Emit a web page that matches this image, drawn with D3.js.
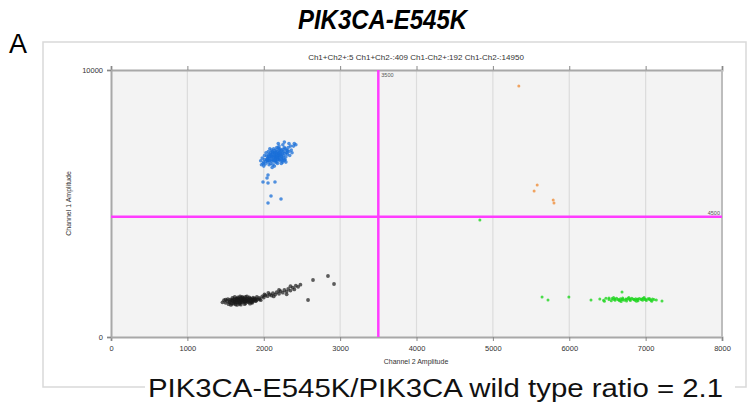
<!DOCTYPE html>
<html><head><meta charset="utf-8">
<script src="https://cdn.jsdelivr.net/npm/d3@7"></script>
<style>body{margin:0;background:#fff}svg{display:block}</style>
</head><body>
<svg id="c" width="751" height="413"></svg>
<script>
// ---- data ----
const title = "PIK3CA-E545K";
const panelLabel = "A";
const countsText = "Ch1+Ch2+:5 Ch1+Ch2-:409 Ch1-Ch2+:192 Ch1-Ch2-:14950";
const ratioText = "PIK3CA-E545K/PIK3CA wild type ratio = 2.1";
const xTicks = [0,1000,2000,3000,4000,5000,6000,7000,8000];
const yTicks = [0,10000];
const ch2Threshold = 3500;
const ch1Threshold = 4500;

// Ch1+Ch2- (blue)
const blueDroplets = [
[2150,6800],[2100,6750],[2200,6850],[2050,6700],[2250,6900],[2120,6650],[2180,6950],[2080,6850],[2230,6750],[2160,6600],
[2010,6650],[2300,7000],[2140,6900],[2190,6700],[2070,6600],[2260,6800],[2110,6950],[2210,7050],[2040,6780],[2280,6650],
[2000,6550],[2330,6950],[2170,7100],[2090,6500],[2240,6600],[2130,6720],[2200,6780],[2060,6820],[2150,6550],[2270,7100],
[1980,6700],[2350,7150],[2220,6950],[2100,7000],[2180,6500],[2030,6900],[2310,6850],[2250,7200],[2120,6450],[2200,6650],
[1960,6600],[2390,7150],[2160,7000],[2080,6700],[2230,6500],[2140,6780],[2290,6750],[2050,6550],[2190,6880],[2110,6580],
[2020,6480],[2360,7000],[2280,7050],[2170,6820],[2240,6700],[2100,6820],[2210,6600],[2060,6950],[2320,7100],[2150,6680],
[2000,6400],[2400,7250],[2130,7050],[2070,6450],[2260,6950],[2180,6650],[2090,6900],[2220,6850],[2040,6650],[2170,6550],
[2120,6850],[2250,6550],[2340,6800],[1990,6500],[2200,7150],[2300,6900],[2140,6400],[2060,6700],[2230,7000],[2160,6750],
[2190,7250],[2270,7300],[2330,7250],[2420,7200],[2080,7050],[2010,6800],[1970,6450],[2110,6350],[2290,6550],[2370,6900],
[2150,6720],[2170,6880],[2200,6720],[2130,6600],[2110,6760],[2190,6800],[2210,6920],[2240,6840],[2160,6920],[2100,6650],
[2080,6600],[2140,6850],[2180,6760],[2230,6660],[2260,6700],[2120,6920],[2200,7000],[2250,7020],[2280,6880],[2070,6760],
[2050,6620],[2030,6580],[2170,6700],[2220,6800],[2140,6980],[2190,7080],[2090,6800],[2150,6620],[2270,6620],[2310,6980],
[2056,6070],[2043,5955],[1990,5805],[2056,5768],[2147,5805],[2095,5281],[2226,5169],[2056,5019]
];
// Ch1-Ch2- (black)
const blackDroplets = [
[1500,1280],[1520,1350],[1550,1300],[1560,1400],[1580,1250],[1600,1330],[1610,1420],[1620,1280],[1640,1370],[1650,1450],
[1660,1300],[1670,1390],[1680,1240],[1690,1340],[1700,1430],[1710,1300],[1720,1380],[1730,1460],[1740,1320],[1750,1400],
[1760,1270],[1770,1360],[1780,1440],[1790,1330],[1800,1410],[1810,1480],[1820,1350],[1830,1430],[1840,1300],[1850,1400],
[1860,1470],[1870,1380],[1880,1450],[1890,1340],[1900,1420],[1910,1500],[1920,1400],[1940,1460],[1960,1380],[1980,1520],
[1540,1230],[1590,1460],[1630,1220],[1700,1210],[1720,1500],[1660,1480],[1780,1520],[1820,1250],[1590,1370],[1650,1350],
[1700,1370],[1750,1340],[1620,1330],[1680,1420],[1730,1400],[1800,1360],[1850,1340],[1460,1300],[1480,1380],[1530,1420],
[1600,1250],[1640,1300],[1680,1300],[1720,1320],[1760,1330],[1800,1300],[1840,1380],[1880,1400],[1620,1400],[1660,1420],
[1700,1470],[1740,1450],[1780,1380],[1820,1450],[1560,1330],[1580,1380],[1640,1430],[1690,1280],[1760,1420],[1860,1420],
[1570,1200],[1650,1200],[1750,1230],[1850,1280],[1900,1360],[1950,1420],[1620,1500],[1690,1520],[1760,1500],[1500,1400],
[2000,1480],[2020,1560],[2050,1530],[2080,1600],[2100,1550],[2120,1640],[2150,1590],[2170,1680],[2200,1620],[2220,1720],
[2250,1660],[2270,1760],[2300,1700],[2320,1800],[2350,1740],[2380,1850],[2400,1780],[2420,1920],[2450,1880],[2480,1960],
[2350,1900],[2200,1760],[2060,1650],[2300,1600],[2130,1520],[2010,1600],
[2645,2135],[2841,2285],[2920,1985],[2580,1385]
];
// Ch1-Ch2+ (green)
const greenDroplets = [
[6400,1420],[6450,1380],[6480,1450],[6520,1400],[6550,1360],[6560,1440],[6580,1410],[6600,1380],[6620,1450],[6640,1400],
[6660,1360],[6670,1430],[6690,1400],[6700,1460],[6720,1380],[6740,1420],[6750,1350],[6770,1440],[6790,1400],[6800,1370],
[6820,1450],[6840,1410],[6860,1380],[6870,1430],[6890,1400],[6900,1360],[6920,1440],[6940,1400],[6960,1380],[6970,1450],
[6990,1410],[7010,1370],[7030,1430],[7050,1400],[7070,1380],[7090,1420],[7110,1400],[7140,1390],[6600,1420],[6700,1410],
[6800,1420],[6900,1420],[7000,1400],[6650,1390],[6750,1410],[6850,1400],[6950,1420],[7050,1440],[6520,1460],[6460,1340],
[6580,1480],[6680,1330],[6780,1480],[6880,1340],[6980,1480],[7080,1340],
[5644,1500],[5722,1390],[5995,1500],[6285,1390],[6691,1685],[7214,1350],[4830,4380]
];
// Ch1+Ch2+ (orange)
const orangeDroplets = [[5340,9400],[5580,5690],[5540,5470],[5790,5130],[5800,5020]];

// ---- drawing ----
const svg = d3.select("#c");
const font = "Liberation Sans, Arial, sans-serif";
const L = 111, R = 722, T = 70, B = 337;
const x = d3.scaleLinear().domain([0, 8000]).range([L, R]);
const y = d3.scaleLinear().domain([0, 10000]).range([B, T]);

// outer frame
svg.append("rect").attr("x", 43).attr("y", 42).attr("width", 703).attr("height", 345)
  .attr("fill", "#fff").attr("stroke", "#d9d9d9").attr("stroke-width", 1.5);

// title & panel label
svg.append("text").attr("x", 298).attr("y", 29)
  .attr("font-family", font).attr("font-size", 27).attr("font-weight", "bold").attr("font-style", "italic")
  .attr("textLength", 169).attr("lengthAdjust", "spacingAndGlyphs").text(title);
svg.append("text").attr("x", 9).attr("y", 53).attr("font-family", font).attr("font-size", 27)
  .attr("textLength", 18).attr("lengthAdjust", "spacingAndGlyphs").text(panelLabel);

// plot background
svg.append("rect").attr("x", L).attr("y", T).attr("width", R - L).attr("height", B - T).attr("fill", "#f3f3f3");

// vertical grid
svg.append("g").selectAll("line").data(xTicks.slice(1, -1)).join("line")
  .attr("x1", d => x(d)).attr("x2", d => x(d)).attr("y1", T).attr("y2", B)
  .attr("stroke", "#dcdcdc").attr("stroke-width", 1.2);

// axes
const gx = svg.append("g").attr("transform", `translate(0,${B})`)
  .call(d3.axisBottom(x).tickValues(xTicks).tickSize(4).tickPadding(5).tickFormat(d3.format("d")));
const gxTop = svg.append("g").attr("transform", `translate(0,${T})`)
  .call(d3.axisTop(x).tickValues(xTicks).tickSize(4).tickFormat(""));
const gy = svg.append("g").attr("transform", `translate(${L},0)`)
  .call(d3.axisLeft(y).tickValues(yTicks).tickSize(4).tickPadding(4).tickFormat(d3.format("d")));
[gx, gxTop, gy].forEach(g => {
  g.selectAll("path").attr("stroke", "#a8a8a8").attr("stroke-width", 2);
  g.selectAll("line").attr("stroke", "#888");
  g.selectAll("text").attr("font-family", font).attr("font-size", 7.5).attr("fill", "#333");
});
svg.append("line").attr("x1", R).attr("x2", R).attr("y1", T).attr("y2", B).attr("stroke", "#bdbdbd").attr("stroke-width", 2);

// axis titles
svg.append("text").attr("x", 416).attr("y", 364).attr("text-anchor", "middle")
  .attr("font-family", font).attr("font-size", 7).attr("fill", "#333").text("Channel 2 Amplitude");
svg.append("text").attr("transform", `translate(71,${(T + B) / 2}) rotate(-90)`).attr("text-anchor", "middle")
  .attr("font-family", font).attr("font-size", 7).attr("fill", "#333").text("Channel 1 Amplitude");
svg.append("text").attr("x", 416).attr("y", 60).attr("text-anchor", "middle")
  .attr("font-family", font).attr("font-size", 8).attr("fill", "#333").text(countsText);

// droplets
function drawDots(data, color, r, op) {
  svg.append("g").selectAll("circle").data(data).join("circle")
    .attr("cx", d => x(d[0])).attr("cy", d => y(d[1])).attr("r", r)
    .attr("fill", color).attr("fill-opacity", op);
}
drawDots(blackDroplets, "#1a1a1a", 1.9, 0.7);
drawDots(blueDroplets, "#1a6fd8", 1.8, 0.75);
drawDots(greenDroplets, "#1fd61f", 1.5, 0.8);
drawDots(orangeDroplets, "#f09a50", 1.5, 0.9);

// thresholds
svg.append("line").attr("x1", x(ch2Threshold)).attr("x2", x(ch2Threshold)).attr("y1", T).attr("y2", B)
  .attr("stroke", "#ff3cff").attr("stroke-width", 2.5);
svg.append("line").attr("x1", L).attr("x2", R).attr("y1", y(ch1Threshold)).attr("y2", y(ch1Threshold))
  .attr("stroke", "#ff3cff").attr("stroke-width", 2.5);
svg.append("text").attr("x", x(ch2Threshold) + 3).attr("y", T + 7).attr("font-family", font)
  .attr("font-size", 5.5).attr("fill", "#555").text(ch2Threshold);
svg.append("text").attr("x", R - 2).attr("y", y(ch1Threshold) - 2).attr("text-anchor", "end").attr("font-family", font)
  .attr("font-size", 5.5).attr("fill", "#555").text(ch1Threshold);

// ratio text
svg.append("rect").attr("x", 145).attr("y", 376).attr("width", 590).attr("height", 30).attr("fill", "#fff");
svg.append("text").attr("x", 148).attr("y", 397).attr("font-family", font).attr("font-size", 26)
  .attr("textLength", 575).attr("lengthAdjust", "spacingAndGlyphs").attr("fill", "#111").text(ratioText);
</script>
</body></html>
